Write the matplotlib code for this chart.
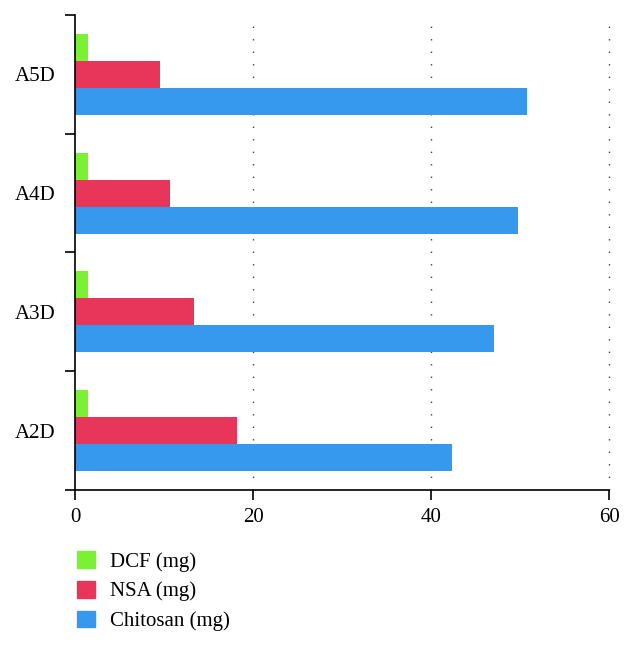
import numpy as np
import matplotlib
matplotlib.use('Agg')
import matplotlib.pyplot as plt
from matplotlib.patches import Patch

plt.rcParams['font.family'] = ['Liberation Serif', 'DejaVu Serif']

# data (bottom to top)
groups = ['A2D', 'A3D', 'A4D', 'A5D']
dcf = [1.5, 1.5, 1.5, 1.5]
nsa = [18.2, 13.4, 10.7, 9.6]
chitosan = [42.3, 47.1, 49.8, 50.8]
xticks = [0, 20, 40, 60]

c_dcf = '#7af233'
c_nsa = '#e8355a'
c_chi = '#3799ee'

fig = plt.figure(figsize=(6.32, 6.46), dpi=100)
ax = fig.add_axes([0.1187, 0.2415, 0.845, 0.7353])

y = np.arange(len(groups))
h = 0.227
ax.barh(y + h, dcf, height=h, color=c_dcf, label='DCF (mg)')
ax.barh(y, nsa, height=h, color=c_nsa, label='NSA (mg)')
ax.barh(y - h, chitosan, height=h, color=c_chi, label='Chitosan (mg)')

ax.set_xlim(0, 60)
ax.set_ylim(-0.5, 3.5)
ax.set_xticks(xticks)
ax.set_xticklabels([str(t) for t in xticks])
ax.set_yticks(y)
ax.set_yticklabels(groups)
ax.set_yticks(np.arange(-0.5, 3.6, 1.0), minor=True)
ax.tick_params(axis='y', which='major', length=0, pad=14, labelsize=15)
ax.tick_params(axis='y', which='minor', length=7, width=1.2, direction='out')
ax.tick_params(axis='x', which='major', length=7, width=1.2, direction='out', labelsize=15, pad=6)

for s in ['top', 'right']:
    ax.spines[s].set_visible(False)
for s in ['left', 'bottom']:
    ax.spines[s].set_linewidth(1.2)

for t in xticks[1:]:
    ax.axvline(t, color='#444444', linestyle=(0, (1, 8)), linewidth=1.0, zorder=0, clip_on=False)

handles = [Patch(color=c_dcf), Patch(color=c_nsa), Patch(color=c_chi)]
fig.legend(handles, ['DCF (mg)', 'NSA (mg)', 'Chitosan (mg)'],
           loc='upper left', bbox_to_anchor=(0.092, 0.176), frameon=False,
           fontsize=15, handlelength=0.85, handleheight=0.85, labelspacing=0.45,
           handletextpad=0.75)

fig.savefig('out.png', dpi=100)
